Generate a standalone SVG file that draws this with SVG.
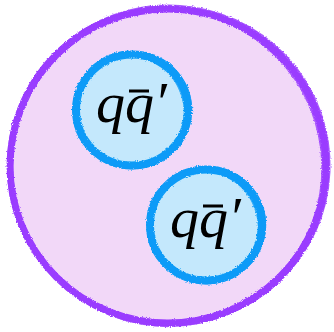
<svg xmlns="http://www.w3.org/2000/svg" width="334" height="332" viewBox="0 0 334 332">
<style>
.outer{fill:none;stroke:#9a3cff}
.inner{fill:none;stroke:#0a9bf7}
.lbl{font-family:"Liberation Serif","Times New Roman",serif;font-style:italic;font-size:58px;fill:#000}
</style>
<defs>
<filter id="rough" x="-10%" y="-10%" width="120%" height="120%">
<feTurbulence type="fractalNoise" baseFrequency="0.8" numOctaves="2" seed="3" result="n"/>
<feDisplacementMap in="SourceGraphic" in2="n" scale="3" xChannelSelector="R" yChannelSelector="G"/>
</filter>
</defs>
<g id="outer-circle">
<circle cx="168" cy="166" r="157" fill="#f2d8f8"/>
<g filter="url(#rough)">
<ellipse class="outer" cx="168" cy="166" rx="158" ry="157" stroke-width="7"/>
<ellipse class="outer" cx="169" cy="165" rx="159.5" ry="158.5" stroke-width="4" transform="rotate(8 168 166)" opacity="0.85"/>
<ellipse class="outer" cx="167" cy="167" rx="156" ry="158" stroke-width="4" transform="rotate(-12 168 166)" opacity="0.8"/>
<ellipse class="outer" cx="168" cy="166" rx="160.5" ry="158" stroke-width="2" transform="rotate(30 168 166)" opacity="0.7"/>
</g>
</g>
<g id="node1">
<circle cx="132" cy="110" r="56" fill="#c4e8fc"/>
<g filter="url(#rough)">
<ellipse class="inner" cx="132" cy="110" rx="56" ry="55.5" stroke-width="8"/>
<ellipse class="inner" cx="133" cy="109" rx="57" ry="56" stroke-width="4" transform="rotate(15 132 110)" opacity="0.85"/>
<ellipse class="inner" cx="131" cy="111" rx="54" ry="56" stroke-width="4" transform="rotate(-20 132 110)" opacity="0.8"/>
<ellipse class="inner" cx="132" cy="111" rx="58" ry="57" stroke-width="2.5" opacity="0.7"/>
</g>
<rect x="129" y="89.5" width="20" height="3" fill="#000"/>
<text class="lbl" x="96" y="122">qq′</text>
</g>
<g id="node2">
<circle cx="206" cy="225" r="56" fill="#c4e8fc"/>
<g filter="url(#rough)">
<ellipse class="inner" cx="206" cy="225" rx="56" ry="55.5" stroke-width="8"/>
<ellipse class="inner" cx="207" cy="224" rx="57" ry="56" stroke-width="4" transform="rotate(15 206 225)" opacity="0.85"/>
<ellipse class="inner" cx="205" cy="226" rx="54" ry="56" stroke-width="4" transform="rotate(-20 206 225)" opacity="0.8"/>
<ellipse class="inner" cx="206" cy="226" rx="58" ry="57" stroke-width="2.5" opacity="0.7"/>
</g>
<rect x="203" y="204.5" width="20" height="3" fill="#000"/>
<text class="lbl" x="170" y="237">qq′</text>
</g>
<g id="connectors"/>
</svg>
